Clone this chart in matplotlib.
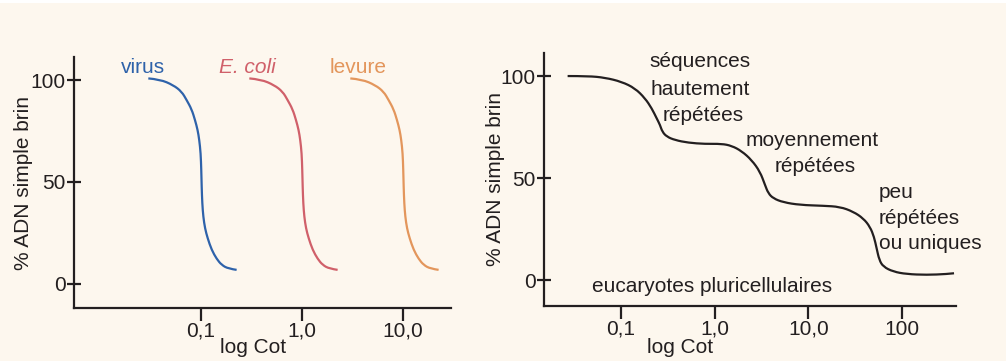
import matplotlib
matplotlib.use("Agg")
import matplotlib.pyplot as plt
import numpy as np
from matplotlib.patches import Rectangle, PathPatch
from matplotlib.path import Path
from matplotlib.transforms import IdentityTransform

plt.rcParams['font.family'] = ['Liberation Sans', 'DejaVu Sans']

# ---------------- data ----------------
# left panel: reassociation curves (Cot, % single strand)
virus_cot = [0.0301, 0.0393, 0.0532, 0.0644, 0.0721, 0.0809, 0.0873, 0.0927, 0.0962,
             0.0993, 0.1007, 0.1016, 0.1030, 0.1054, 0.1096, 0.1164, 0.1276, 0.1429,
             0.1603, 0.1866, 0.2254]
ecoli_cot = [0.301, 0.393, 0.532, 0.644, 0.721, 0.809, 0.873, 0.927, 0.962,
             0.993, 1.007, 1.016, 1.030, 1.054, 1.096, 1.164, 1.276, 1.429,
             1.603, 1.866, 2.254]
levure_cot = [3.01, 3.93, 5.32, 6.44, 7.21, 8.09, 8.73, 9.27, 9.62,
              9.93, 10.07, 10.16, 10.30, 10.54, 10.96, 11.64, 12.76, 14.29,
              16.03, 18.66, 22.54]
simple_pct = [100.8, 100.3, 97.5, 94.3, 90.2, 85.6, 80.4, 75.5, 70.6, 64.1, 55.9,
              47.7, 39.5, 33.0, 27.3, 22.4, 16.7, 12.3, 9.3, 7.5, 6.9]

# right panel: multicellular eukaryotes
euk_cot = [0.0272, 0.0452, 0.0681, 0.1023, 0.1419, 0.1816, 0.2138, 0.2415, 0.2624,
           0.2773, 0.3090, 0.3784, 0.5248, 0.7907, 1.189, 1.521, 1.941, 2.483,
           3.048, 3.443, 3.733, 4.227, 5.395, 8.110, 14.39, 21.63, 29.99, 38.37,
           45.19, 49.89, 53.21, 56.75, 62.66, 79.98, 110.9, 181.1, 295.8, 355.0]
euk_pct = [100, 100, 99.2, 97.2, 94.0, 89.1, 84.2, 79.3, 76.0, 72.7, 70.3, 68.6,
           67.3, 66.7, 66.8, 65.8, 63.2, 58.8, 53.1, 46.6, 42.5, 40.0, 38.1, 36.8,
           36.4, 35.9, 33.5, 30.2, 26.1, 21.2, 15.5, 9.8, 6.5, 4.1, 2.9, 2.5, 2.9, 3.3]

y_ticks = [0, 50, 100]
y_ticklabels = ["0", "50", "100"]
left_xticks = [0.1, 1.0, 10.0]
left_xticklabels = ["0,1", "1,0", "10,0"]
right_xticks = [0.1, 1.0, 10.0, 100.0]
right_xticklabels = ["0,1", "1,0", "10,0", "100"]

series_names = ["virus", "E. coli", "levure"]
series_colors = ["#2e62aa", "#d0606a", "#e3965c"]

# ---------------- figure ----------------
W, H = 1006, 361
BG = "#fdf7ee"
INK = "#231f20"
fig = plt.figure(figsize=(W / 100, H / 100), dpi=100, facecolor=BG)
fig.patches.append(Rectangle((0, 1 - 3 / H), 1, 3 / H, transform=fig.transFigure,
                             facecolor="white", edgecolor="none", zorder=-1))

FS = 15


def px(x, y):
    return x / W, 1 - y / H


def style_axes(ax):
    ax.set_facecolor("none")
    ax.set_xscale("log")
    for s in ["top", "right"]:
        ax.spines[s].set_visible(False)
    for s in ["left", "bottom"]:
        ax.spines[s].set_linewidth(1.6)
        ax.spines[s].set_color(INK)
    ax.tick_params(axis="y", direction="inout", length=10, width=1.6, colors=INK,
                   labelsize=FS, pad=1)
    ax.tick_params(axis="x", direction="out", length=9, width=1.6, colors=INK,
                   labelsize=FS, pad=1)
    ax.tick_params(axis="x", which="minor", bottom=False)
    ax.set_yticks(y_ticks)
    ax.set_yticklabels(y_ticklabels)


def smooth_curve(ax, xs, ys, color):
    """Draw a smooth (quadratic B-spline) curve through the read points, in display space."""
    ax.plot(xs, ys, color="none")  # register data with the axes
    fig.canvas.draw()
    pts = ax.transData.transform(np.column_stack([xs, ys]))
    verts = [pts[0]]
    codes = [Path.MOVETO]
    for i in range(1, len(pts) - 1):
        mid = (pts[i] + pts[i + 1]) / 2 if i < len(pts) - 2 else pts[i + 1]
        verts += [pts[i], mid]
        codes += [Path.CURVE3, Path.CURVE3]
    patch = PathPatch(Path(verts, codes), facecolor="none", edgecolor=color, lw=1.6,
                      transform=IdentityTransform(), capstyle="butt")
    ax.add_artist(patch)


# left panel
ax1 = fig.add_axes([74 / W, (H - 308) / H, (451 - 74) / W, (308 - 57) / H])
style_axes(ax1)
ax1.set_xlim(0.00553, 29.9)
ax1.set_ylim(-11.8, 111.3)
ax1.set_xticks(left_xticks)
ax1.set_xticklabels(left_xticklabels)
ax1.set_ylabel("% ADN simple brin", fontsize=FS, color=INK, labelpad=-2)

# right panel
ax2 = fig.add_axes([544 / W, (H - 305.7) / H, (956 - 544) / W, (305.7 - 53) / H])
style_axes(ax2)
ax2.set_xlim(0.01524, 372.6)
ax2.set_ylim(-12.6, 111.3)
ax2.set_xticks(right_xticks)
ax2.set_xticklabels(right_xticklabels)
ax2.set_ylabel("% ADN simple brin", fontsize=FS, color=INK, labelpad=-3.5)

for xs, c in zip([virus_cot, ecoli_cot, levure_cot], series_colors):
    smooth_curve(ax1, xs, simple_pct, c)
smooth_curve(ax2, euk_cot, euk_pct, INK)

fig.text(*px(143, 73), series_names[0], color=series_colors[0], fontsize=FS,
         ha="center", va="baseline")
fig.text(*px(247, 73), series_names[1], color=series_colors[1], fontsize=FS,
         ha="center", va="baseline", style="italic")
fig.text(*px(358, 73), series_names[2], color=series_colors[2], fontsize=FS,
         ha="center", va="baseline")
fig.text(*px(253, 353), "log Cot", color=INK, fontsize=FS, ha="center", va="baseline")

for s, x, y in [("séquences", 700, 67), ("hautement", 700, 95), ("répétées", 703, 121),
                ("moyennement", 812, 146), ("répétées", 815, 172)]:
    fig.text(*px(x, y), s, color=INK, fontsize=FS, ha="center", va="baseline")
for s, y in [("peu", 198), ("répétées", 224), ("ou uniques", 249)]:
    fig.text(*px(879, y), s, color=INK, fontsize=FS, ha="left", va="baseline")
fig.text(*px(712, 292), "eucaryotes pluricellulaires", color=INK, fontsize=FS,
         ha="center", va="baseline")
fig.text(*px(680, 353), "log Cot", color=INK, fontsize=FS, ha="center", va="baseline")

fig.savefig("out.png", dpi=100, facecolor=BG)
